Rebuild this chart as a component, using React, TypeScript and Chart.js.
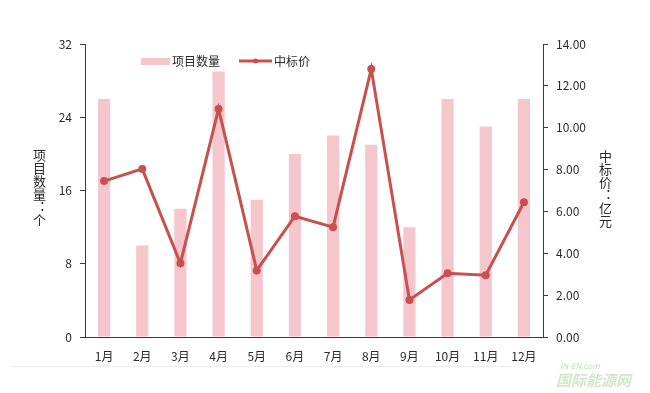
import React, { useEffect, useRef } from "react";
import { Chart, registerables } from "chart.js";

Chart.register(...registerables);

const months = ["1月", "2月", "3月", "4月", "5月", "6月", "7月", "8月", "9月", "10月", "11月", "12月"];
const projectCounts = [26, 10, 14, 29, 15, 20, 22, 21, 12, 26, 23, 26];
const bidPrices = [7.45, 8.03, 3.52, 10.9, 3.18, 5.77, 5.25, 12.8, 1.77, 3.05, 2.95, 6.44];
const leftTicks = [0, 8, 16, 24, 32];
const rightTicks = [0, 2, 4, 6, 8, 10, 12, 14];

const BAR_COLOR = "#F5C6CC";
const LINE_COLOR = "#C8504E";
const AXIS_COLOR = "#3a3a3a";
const TEXT_COLOR = "#2a2a2a";
const FONT = "'Noto Sans CJK SC', 'Noto Sans', sans-serif";

const extrasPlugin = {
  id: "extras",
  afterDraw(chart: any) {
    const ctx = chart.ctx;
    ctx.save();
    // faint separator line
    ctx.strokeStyle = "#eeeeee";
    ctx.lineWidth = 1;
    ctx.beginPath();
    ctx.moveTo(10, 366.5);
    ctx.lineTo(515, 366.5);
    ctx.stroke();
    // legend
    ctx.font = `12px ${FONT}`;
    ctx.textBaseline = "middle";
    ctx.fillStyle = BAR_COLOR;
    ctx.fillRect(141, 58, 29, 7);
    ctx.fillStyle = TEXT_COLOR;
    ctx.textAlign = "left";
    ctx.fillText("项目数量", 172, 61);
    ctx.strokeStyle = LINE_COLOR;
    ctx.lineWidth = 3;
    ctx.beginPath();
    ctx.moveTo(239, 61);
    ctx.lineTo(272, 61);
    ctx.stroke();
    ctx.fillStyle = LINE_COLOR;
    ctx.beginPath();
    ctx.arc(255.5, 61, 2.5, 0, Math.PI * 2);
    ctx.fill();
    ctx.fillStyle = TEXT_COLOR;
    ctx.fillText("中标价", 274, 61);
    ctx.restore();
  },
};

export default function App() {
  const ref = useRef<HTMLCanvasElement>(null);

  useEffect(() => {
    document.body.style.margin = "0";
    const canvas = ref.current!;
    const chart = new Chart(canvas, {
      type: "bar",
      data: {
        labels: months,
        datasets: [
          {
            type: "line",
            label: "中标价",
            data: bidPrices,
            yAxisID: "y1",
            borderColor: LINE_COLOR,
            backgroundColor: LINE_COLOR,
            borderWidth: 3,
            pointRadius: 4,
            pointBackgroundColor: LINE_COLOR,
            pointBorderWidth: 0,
            tension: 0,
            order: 0,
          } as any,
          {
            type: "bar",
            label: "项目数量",
            data: projectCounts,
            yAxisID: "y",
            backgroundColor: BAR_COLOR,
            borderWidth: 0,
            categoryPercentage: 1,
            barPercentage: 0.32,
            order: 1,
          },
        ],
      },
      options: {
        animation: false,
        responsive: false,
        maintainAspectRatio: false,
        layout: { padding: { left: 0, right: 0, top: 44, bottom: 0 } },
        plugins: { legend: { display: false }, tooltip: { enabled: false } },
        scales: {
          x: {
            grid: { display: false },
            border: { display: true, color: AXIS_COLOR, width: 1 },
            ticks: { color: TEXT_COLOR, font: { family: FONT, size: 12 }, padding: 4, maxRotation: 0 },
            afterFit: (axis: any) => {
              axis.height = 393 - 337 - 0;
            },
          },
          y: {
            position: "left",
            min: 0,
            max: 32,
            afterBuildTicks: (axis: any) => {
              axis.ticks = leftTicks.map((v) => ({ value: v }));
            },
            grid: { display: true, drawOnChartArea: false, drawTicks: true, tickLength: 5, color: AXIS_COLOR },
            border: { display: true, color: AXIS_COLOR, width: 1 },
            ticks: { color: TEXT_COLOR, font: { family: FONT, size: 12 }, padding: 8 },
            afterFit: (axis: any) => {
              axis.width = 85;
            },
          },
          y1: {
            position: "right",
            min: 0,
            max: 14,
            afterBuildTicks: (axis: any) => {
              axis.ticks = rightTicks.map((v) => ({ value: v }));
            },
            grid: { display: true, drawOnChartArea: false, drawTicks: true, tickLength: 5, color: AXIS_COLOR },
            border: { display: true, color: AXIS_COLOR, width: 1 },
            ticks: {
              color: TEXT_COLOR,
              font: { family: FONT, size: 12 },
              padding: 8,
              callback: (v: any) => Number(v).toFixed(2),
            },
            afterFit: (axis: any) => {
              axis.width = 650 - 543;
            },
          },
        },
      },
      plugins: [extrasPlugin],
    });
    return () => chart.destroy();
  }, []);

  const vTitle: React.CSSProperties = {
    position: "absolute",
    writingMode: "vertical-rl",
    fontFamily: FONT,
    fontSize: 13,
    color: TEXT_COLOR,
    lineHeight: 1,
    letterSpacing: 0,
  };

  return (
    <div style={{ position: "relative", width: 650, height: 393, background: "#fff", overflow: "hidden" }}>
      <canvas ref={ref} width={650} height={393} style={{ display: "block" }} />
      <div style={{ ...vTitle, left: 33, top: 149 }}>项目数量：个</div>
      <div style={{ ...vTitle, left: 599, top: 150 }}>中标价：亿元</div>
      <div
        style={{
          position: "absolute",
          left: 560,
          top: 362,
          fontFamily: FONT,
          fontSize: 8,
          fontStyle: "italic",
          color: "#b8dfb0",
          lineHeight: 1,
        }}
      >
        IN-EN.com
      </div>
      <div
        style={{
          position: "absolute",
          left: 556,
          top: 372,
          fontFamily: FONT,
          fontSize: 15,
          fontWeight: 700,
          fontStyle: "italic",
          color: "#cfe9c8",
          lineHeight: 1,
        }}
      >
        国际能源网
      </div>
    </div>
  );
}
